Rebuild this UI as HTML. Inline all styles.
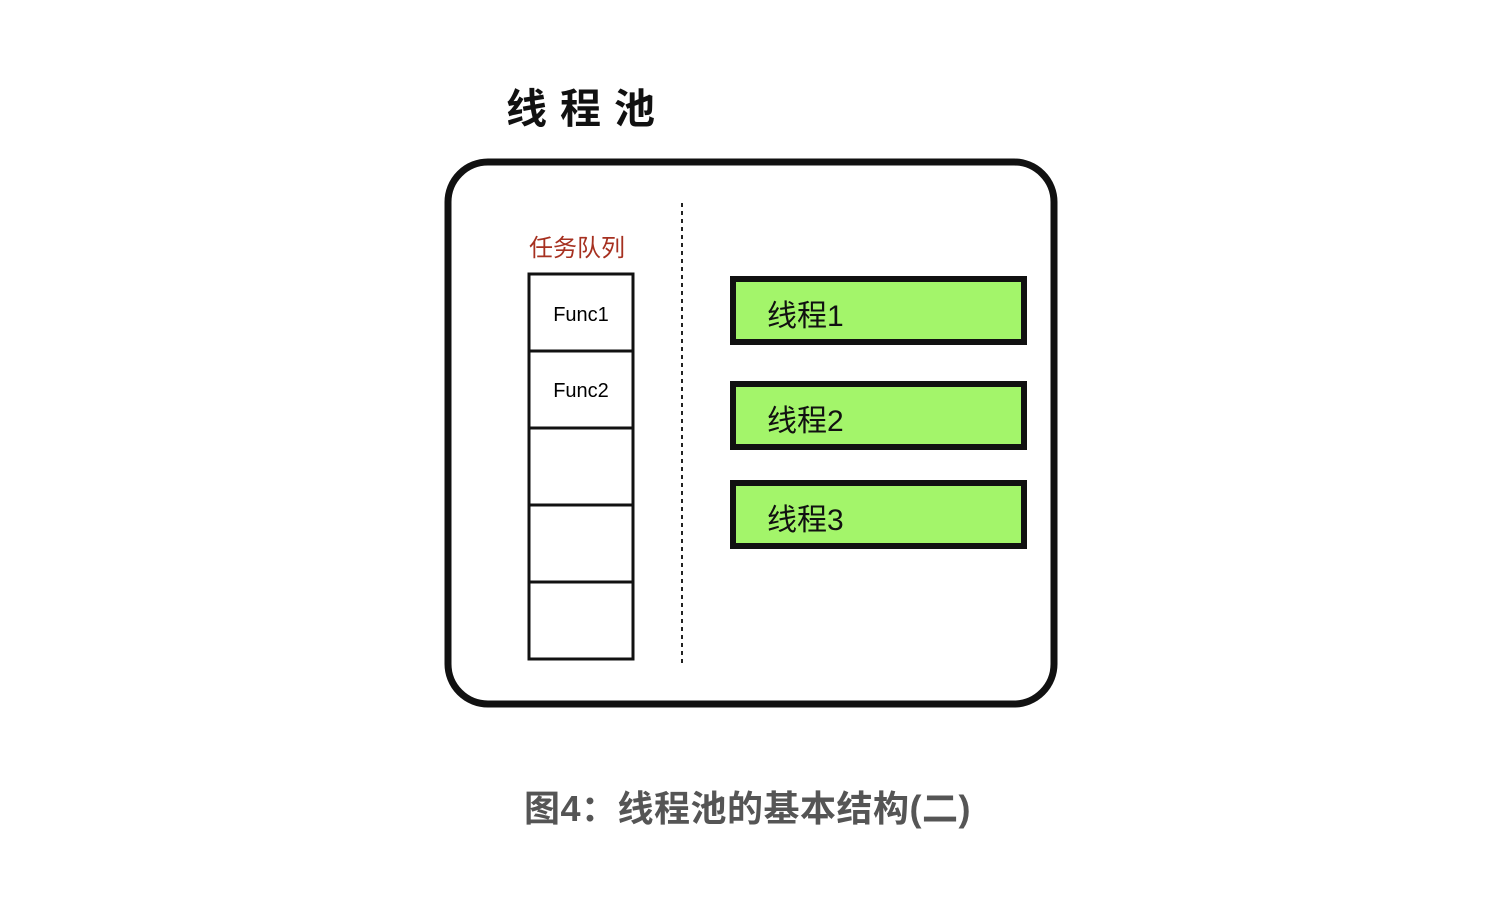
<!DOCTYPE html>
<html><head><meta charset="utf-8"><style>
body{margin:0;background:#fff;width:1500px;height:916px;overflow:hidden;position:relative;font-family:"Liberation Sans","Noto Sans CJK SC",sans-serif}
.a{position:absolute}
</style></head><body>
<svg class="a" style="left:0;top:0" width="1500" height="916">
<rect x="448" y="162" width="606" height="542" rx="40" fill="none" stroke="#111" stroke-width="7"/>
<line x1="682" y1="203" x2="682" y2="665" stroke="#222" stroke-width="2" stroke-dasharray="4,4"/>
<rect x="529" y="274" width="104" height="385" fill="#fff" stroke="#111" stroke-width="3"/>
<line x1="529" y1="351" x2="633" y2="351" stroke="#111" stroke-width="3"/>
<line x1="529" y1="428" x2="633" y2="428" stroke="#111" stroke-width="3"/>
<line x1="529" y1="505" x2="633" y2="505" stroke="#111" stroke-width="3"/>
<line x1="529" y1="582" x2="633" y2="582" stroke="#111" stroke-width="3"/>
<rect x="733" y="279" width="291" height="63" fill="#a3f56a" stroke="#111" stroke-width="6"/>
<rect x="733" y="384" width="291" height="63" fill="#a3f56a" stroke="#111" stroke-width="6"/>
<rect x="733" y="483" width="291" height="63" fill="#a3f56a" stroke="#111" stroke-width="6"/>
</svg>
<div class="a" style="left:506px;top:75px;font-size:41px;letter-spacing:13px;color:#111;font-weight:bold">线程池</div>
<div class="a" style="left:529px;top:228px;font-size:24px;color:#a63020">任务队列</div>
<div class="a" style="left:529px;top:304px;width:104px;text-align:center;font-size:20px">Func1</div>
<div class="a" style="left:529px;top:380px;width:104px;text-align:center;font-size:20px">Func2</div>
<div class="a" style="left:767px;top:291px;font-size:30px;color:#111">线程1</div>
<div class="a" style="left:767px;top:396px;font-size:30px;color:#111">线程2</div>
<div class="a" style="left:767px;top:495px;font-size:30px;color:#111">线程3</div>
<div class="a" style="left:524px;top:780px;font-size:36px;font-weight:bold;color:#555;letter-spacing:0.5px">图4：线程池的基本结构(二)</div>
</body></html>
